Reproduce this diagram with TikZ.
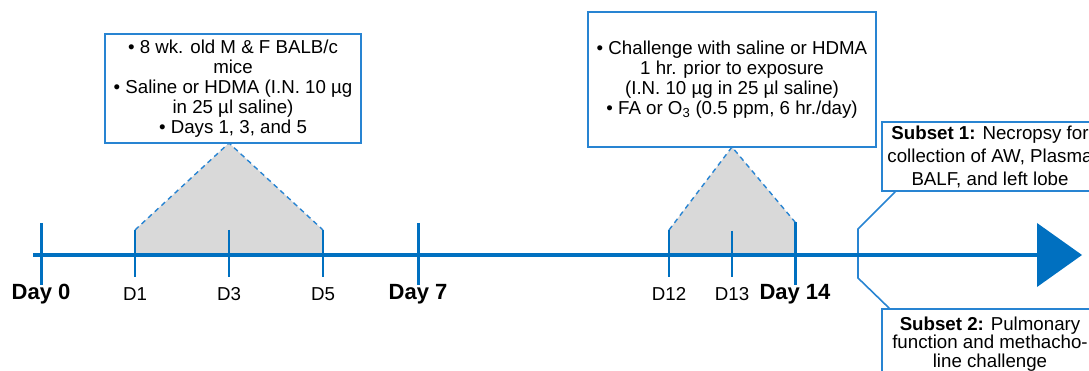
\documentclass[tikz,border=0pt]{standalone}
\usepackage{fontspec}
\setmainfont{Liberation Sans}
\definecolor{tlblue}{RGB}{0,112,192}
\definecolor{boxblue}{RGB}{40,132,210}
\definecolor{shadegray}{RGB}{217,217,217}
\begin{document}
\begin{tikzpicture}[x=1pt,y=-1pt,
  infobox/.style={draw=boxblue, line width=1.6pt, fill=white, align=center, inner sep=0pt,
    font=\fontsize{18.7}{20}\selectfont},
  daylbl/.style={font=\fontsize{22}{24}\selectfont\bfseries, inner sep=0pt},
  dlbl/.style={font=\fontsize{18.7}{20}\selectfont, inner sep=0pt},
  majortick/.style={draw=tlblue, line width=3pt},
  minortick/.style={draw=tlblue, line width=2pt},
  dashedge/.style={draw=boxblue, line width=1.4pt, dash pattern=on 5pt off 4pt},
  bracket/.style={draw=boxblue, line width=1.6pt, line join=miter}]
\useasboundingbox (0,0) rectangle (1089,371);

% shaded exposure windows
\fill[shadegray] (135,255) -- (135,230) -- (229,143) -- (323,230) -- (323,255) -- cycle;
\fill[shadegray] (669,255) -- (669,230) -- (732,147) -- (795,222) -- (795,255) -- cycle;
\draw[dashedge] (135,230) -- (229,143) -- (323,230);
\draw[dashedge] (669,230) -- (732,147) -- (795,222);

% boxes
\node[infobox, minimum width=256, minimum height=109] (box1) at (233,88.5)
  {\textbullet{} 8 wk. old M \& F BALB/c\\mice\\\textbullet{} Saline or HDMA (I.N. 10 µg\\in 25 µl saline)\\\textbullet{} Days 1, 3, and 5};
\node[infobox, minimum width=288, minimum height=135] (box2) at (732,79.5)
  {\textbullet{} Challenge with saline or HDMA\\1 hr. prior to exposure\\(I.N. 10 µg in 25 µl saline)\\\textbullet{} FA or O\textsubscript{3} (0.5 ppm, 6 hr./day)};
\node[infobox, minimum width=216, minimum height=69, font=\fontsize{18.7}{23}\selectfont] (sub1) at (990,156.5)
  {\textbf{Subset 1:} Necropsy for\\collection of AW, Plasma\\BALF, and left lobe};
\node[infobox, minimum width=216, minimum height=70, font=\fontsize{18.7}{18.7}\selectfont] (sub2) at (990,344)
  {\textbf{Subset 2:} Pulmonary\\function and methacho-\\line challenge};

% bracket connector
\coordinate (bk1) at (858,229);
\coordinate (bk2) at (858,278);
\draw[bracket] ([xshift=14pt]sub1.south west) -- (bk1) -- (bk2) -- ([xshift=8pt]sub2.north west);

% timeline
\coordinate (tstart) at (33,255);
\coordinate (tend) at (1040,255);
\draw[draw=tlblue, line width=4pt] (tstart) -- (tend);
\fill[tlblue] (1037,223) -- (1082,255) -- (1037,287) -- cycle;

% ticks
\draw[majortick] (41,223) -- (41,285);
\draw[majortick] (418,223) -- (418,285);
\draw[majortick] (795,222) -- (795,285);
\draw[minortick] (135,230) -- (135,277);
\draw[minortick] (229,230) -- (229,277);
\draw[minortick] (323,230) -- (323,277);
\draw[minortick] (669,230) -- (669,277);
\draw[minortick] (732,231) -- (732,277);

% labels
\node[daylbl] (l0) at (41,294) {Day 0};
\node[daylbl] (l7) at (418,294) {Day 7};
\node[daylbl] (l14) at (795,294) {Day 14};
\node[dlbl] (l1) at (135,294) {D1};
\node[dlbl] (l3) at (229,294) {D3};
\node[dlbl] (l5) at (323,294) {D5};
\node[dlbl] (l12) at (669,294) {D12};
\node[dlbl] (l13) at (732,294) {D13};
\end{tikzpicture}
\end{document}
